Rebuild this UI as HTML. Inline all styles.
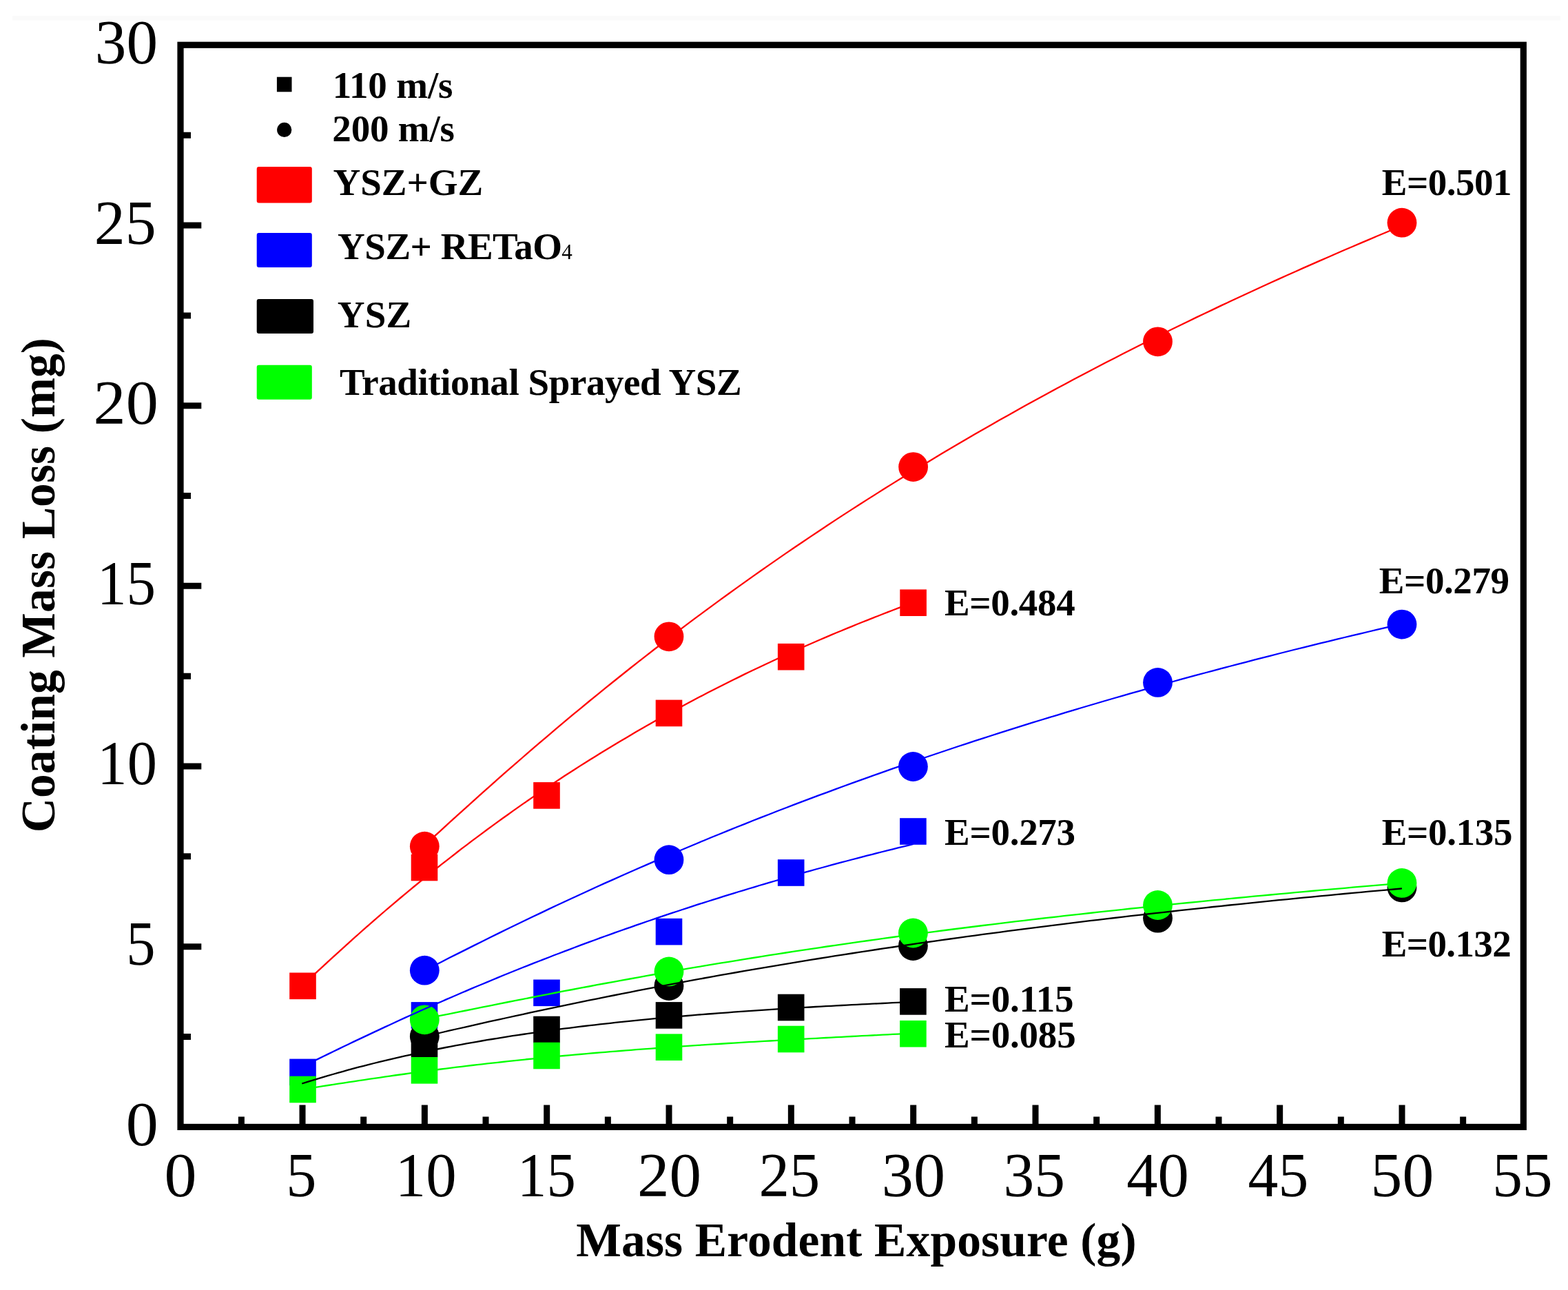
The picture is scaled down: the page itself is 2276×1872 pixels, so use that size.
<!DOCTYPE html><html><head><meta charset="utf-8"><title>Coating Mass Loss vs Mass Erodent Exposure</title><style>html,body{margin:0;padding:0;background:#fff;}svg{display:block;}text{font-family:"Liberation Serif","Times New Roman",serif;fill:#000;}.b{font-weight:bold;}</style></head><body>
<svg width="2276" height="1872" viewBox="0 0 2276 1872">
<rect x="0" y="0" width="2276" height="1872" fill="#fff"/>
<rect x="18" y="23" width="2247" height="6.5" fill="#fafafa"/>
<g id="markers" shape-rendering="geometricPrecision">
<rect x="420.2" y="1411.5" width="38.6" height="38.6" fill="#ff0000"/>
<rect x="596.7" y="1239.7" width="38.6" height="38.6" fill="#ff0000"/>
<rect x="774.2" y="1135.1" width="38.6" height="38.6" fill="#ff0000"/>
<rect x="951.7" y="1015.6" width="38.6" height="38.6" fill="#ff0000"/>
<rect x="1128.9" y="933.9" width="38.6" height="38.6" fill="#ff0000"/>
<rect x="1306.3" y="855.4" width="38.6" height="38.6" fill="#ff0000"/>
<circle cx="616.3" cy="1228.2" r="21.4" fill="#ff0000"/>
<circle cx="971" cy="923.8" r="21.4" fill="#ff0000"/>
<circle cx="1325.6" cy="677.6" r="21.4" fill="#ff0000"/>
<circle cx="1680.5" cy="495.8" r="21.4" fill="#ff0000"/>
<circle cx="2035" cy="323.2" r="21.4" fill="#ff0000"/>
<rect x="420.2" y="1536.6" width="38.6" height="38.6" fill="#0000ff"/>
<rect x="596.7" y="1454.1" width="38.6" height="38.6" fill="#0000ff"/>
<rect x="774.2" y="1421.5" width="38.6" height="38.6" fill="#0000ff"/>
<rect x="951.7" y="1332.8" width="38.6" height="38.6" fill="#0000ff"/>
<rect x="1128.9" y="1247.2" width="38.6" height="38.6" fill="#0000ff"/>
<rect x="1306.1" y="1187.2" width="38.6" height="38.6" fill="#0000ff"/>
<circle cx="616.3" cy="1408.2" r="21.4" fill="#0000ff"/>
<circle cx="971" cy="1247.7" r="21.4" fill="#0000ff"/>
<circle cx="1325.4" cy="1112.5" r="21.4" fill="#0000ff"/>
<circle cx="1680.5" cy="990.4" r="21.4" fill="#0000ff"/>
<circle cx="2035" cy="906.1" r="21.4" fill="#0000ff"/>
<rect x="596.7" y="1495.5" width="38.6" height="38.6" fill="#000000"/>
<rect x="774.2" y="1474.7" width="38.6" height="38.6" fill="#000000"/>
<rect x="951.7" y="1454.1" width="38.6" height="38.6" fill="#000000"/>
<rect x="1128.9" y="1442.7" width="38.6" height="38.6" fill="#000000"/>
<rect x="1306.1" y="1434.1" width="38.6" height="38.6" fill="#000000"/>
<circle cx="616.3" cy="1504" r="21.4" fill="#000000"/>
<circle cx="971" cy="1430.5" r="21.4" fill="#000000"/>
<circle cx="1325.4" cy="1372.5" r="21.4" fill="#000000"/>
<circle cx="1680.5" cy="1332.2" r="21.4" fill="#000000"/>
<circle cx="2035" cy="1287.9" r="21.4" fill="#000000"/>
<rect x="420.2" y="1561.7" width="38.6" height="38.6" fill="#00ff00"/>
<rect x="596.7" y="1534" width="38.6" height="38.6" fill="#00ff00"/>
<rect x="774.2" y="1512.7" width="38.6" height="38.6" fill="#00ff00"/>
<rect x="951.7" y="1500.4" width="38.6" height="38.6" fill="#00ff00"/>
<rect x="1128.9" y="1488.7" width="38.6" height="38.6" fill="#00ff00"/>
<rect x="1306.1" y="1480.9" width="38.6" height="38.6" fill="#00ff00"/>
<circle cx="616.3" cy="1479.8" r="21.4" fill="#00ff00"/>
<circle cx="971" cy="1409.9" r="21.4" fill="#00ff00"/>
<circle cx="1325.4" cy="1354" r="21.4" fill="#00ff00"/>
<circle cx="1680.5" cy="1313.5" r="21.4" fill="#00ff00"/>
<circle cx="2035" cy="1281.4" r="21.4" fill="#00ff00"/>
</g>
<g id="fits" fill="none" stroke-linejoin="round" stroke-linecap="butt">
<path d="M439.0,1430.0 L446.5,1423.0 L453.9,1416.1 L461.4,1409.2 L468.8,1402.3 L476.3,1395.4 L483.7,1388.6 L491.2,1381.8 L498.6,1375.1 L506.1,1368.3 L513.5,1361.7 L521.0,1355.0 L528.4,1348.4 L535.9,1341.9 L543.3,1335.4 L550.8,1328.9 L558.2,1322.5 L565.7,1316.1 L573.1,1309.8 L580.6,1303.5 L588.0,1297.3 L595.5,1291.1 L602.9,1285.0 L610.4,1278.9 L617.9,1272.8 L625.3,1266.8 L632.8,1260.9 L640.2,1254.9 L647.7,1249.1 L655.1,1243.3 L662.6,1237.5 L670.0,1231.7 L677.5,1226.1 L684.9,1220.4 L692.4,1214.8 L699.8,1209.3 L707.3,1203.8 L714.7,1198.3 L722.2,1192.9 L729.6,1187.5 L737.1,1182.2 L744.5,1176.9 L752.0,1171.6 L759.4,1166.4 L766.9,1161.3 L774.3,1156.1 L781.8,1151.1 L789.2,1146.0 L796.7,1141.0 L804.1,1136.1 L811.6,1131.2 L819.0,1126.3 L826.5,1121.5 L833.9,1116.7 L841.4,1111.9 L848.8,1107.2 L856.3,1102.5 L863.7,1097.9 L871.2,1093.3 L878.6,1088.7 L886.1,1084.2 L893.5,1079.7 L901.0,1075.3 L908.4,1070.9 L915.9,1066.5 L923.3,1062.1 L930.8,1057.8 L938.2,1053.6 L945.7,1049.3 L953.1,1045.1 L960.6,1041.0 L968.0,1036.9 L975.5,1032.8 L982.9,1028.7 L990.4,1024.7 L997.8,1020.7 L1005.3,1016.7 L1012.7,1012.8 L1020.2,1008.9 L1027.6,1005.1 L1035.1,1001.2 L1042.5,997.4 L1050.0,993.7 L1057.4,989.9 L1064.9,986.2 L1072.4,982.6 L1079.8,978.9 L1087.3,975.3 L1094.7,971.7 L1102.2,968.2 L1109.6,964.7 L1117.1,961.2 L1124.5,957.7 L1132.0,954.3 L1139.4,950.9 L1146.9,947.5 L1154.3,944.1 L1161.8,940.8 L1169.2,937.5 L1176.7,934.2 L1184.1,931.0 L1191.6,927.8 L1199.0,924.6 L1206.5,921.4 L1213.9,918.3 L1221.4,915.2 L1228.8,912.1 L1236.3,909.1 L1243.7,906.0 L1251.2,903.0 L1258.6,900.1 L1266.1,897.1 L1273.5,894.2 L1281.0,891.3 L1288.4,888.4 L1295.9,885.5 L1303.3,882.7 L1310.8,879.9 L1318.2,877.1 L1325.7,874.3" stroke="#ff0000" stroke-width="2.3"/>
<path d="M616.4,1226.7 L628.3,1215.7 L640.2,1204.8 L652.1,1193.9 L664.0,1183.1 L676.0,1172.3 L687.9,1161.6 L699.8,1150.9 L711.7,1140.3 L723.7,1129.7 L735.6,1119.2 L747.5,1108.8 L759.4,1098.5 L771.3,1088.2 L783.3,1077.9 L795.2,1067.8 L807.1,1057.7 L819.0,1047.7 L830.9,1037.7 L842.9,1027.8 L854.8,1018.0 L866.7,1008.3 L878.6,998.6 L890.6,989.0 L902.5,979.5 L914.4,970.0 L926.3,960.6 L938.2,951.3 L950.2,942.0 L962.1,932.8 L974.0,923.7 L985.9,914.6 L997.8,905.6 L1009.8,896.7 L1021.7,887.9 L1033.6,879.1 L1045.5,870.4 L1057.4,861.7 L1069.4,853.1 L1081.3,844.6 L1093.2,836.1 L1105.1,827.7 L1117.1,819.4 L1129.0,811.1 L1140.9,802.9 L1152.8,794.8 L1164.7,786.7 L1176.7,778.6 L1188.6,770.7 L1200.5,762.8 L1212.4,754.9 L1224.3,747.1 L1236.3,739.4 L1248.2,731.7 L1260.1,724.1 L1272.0,716.6 L1284.0,709.1 L1295.9,701.6 L1307.8,694.2 L1319.7,686.9 L1331.6,679.6 L1343.6,672.4 L1355.5,665.2 L1367.4,658.1 L1379.3,651.0 L1391.2,644.0 L1403.2,637.0 L1415.1,630.1 L1427.0,623.2 L1438.9,616.4 L1450.9,609.6 L1462.8,602.9 L1474.7,596.2 L1486.6,589.6 L1498.5,583.0 L1510.5,576.5 L1522.4,570.0 L1534.3,563.6 L1546.2,557.2 L1558.1,550.8 L1570.1,544.5 L1582.0,538.2 L1593.9,532.0 L1605.8,525.8 L1617.8,519.7 L1629.7,513.6 L1641.6,507.5 L1653.5,501.5 L1665.4,495.5 L1677.4,489.6 L1689.3,483.7 L1701.2,477.8 L1713.1,472.0 L1725.0,466.2 L1737.0,460.4 L1748.9,454.7 L1760.8,449.1 L1772.7,443.4 L1784.7,437.8 L1796.6,432.2 L1808.5,426.7 L1820.4,421.2 L1832.3,415.7 L1844.3,410.3 L1856.2,404.9 L1868.1,399.5 L1880.0,394.2 L1891.9,388.9 L1903.9,383.6 L1915.8,378.4 L1927.7,373.2 L1939.6,368.0 L1951.6,362.8 L1963.5,357.7 L1975.4,352.6 L1987.3,347.6 L1999.2,342.5 L2011.2,337.5 L2023.1,332.5 L2035.0,327.6" stroke="#ff0000" stroke-width="2.3"/>
<path d="M439.0,1547.9 L446.5,1544.2 L453.9,1540.5 L461.4,1536.9 L468.8,1533.2 L476.3,1529.6 L483.7,1526.0 L491.2,1522.4 L498.6,1518.8 L506.1,1515.2 L513.5,1511.6 L521.0,1508.1 L528.4,1504.6 L535.9,1501.1 L543.3,1497.6 L550.8,1494.1 L558.2,1490.6 L565.7,1487.2 L573.1,1483.7 L580.6,1480.3 L588.0,1476.9 L595.5,1473.5 L602.9,1470.2 L610.4,1466.8 L617.9,1463.5 L625.3,1460.2 L632.8,1456.9 L640.2,1453.7 L647.7,1450.4 L655.1,1447.2 L662.6,1444.0 L670.0,1440.8 L677.5,1437.6 L684.9,1434.4 L692.4,1431.3 L699.8,1428.2 L707.3,1425.1 L714.7,1422.0 L722.2,1418.9 L729.6,1415.8 L737.1,1412.8 L744.5,1409.8 L752.0,1406.8 L759.4,1403.8 L766.9,1400.9 L774.3,1397.9 L781.8,1395.0 L789.2,1392.1 L796.7,1389.2 L804.1,1386.3 L811.6,1383.5 L819.0,1380.6 L826.5,1377.8 L833.9,1375.0 L841.4,1372.2 L848.8,1369.4 L856.3,1366.7 L863.7,1364.0 L871.2,1361.2 L878.6,1358.5 L886.1,1355.8 L893.5,1353.2 L901.0,1350.5 L908.4,1347.9 L915.9,1345.3 L923.3,1342.7 L930.8,1340.1 L938.2,1337.5 L945.7,1335.0 L953.1,1332.4 L960.6,1329.9 L968.0,1327.4 L975.5,1324.9 L982.9,1322.5 L990.4,1320.0 L997.8,1317.6 L1005.3,1315.1 L1012.7,1312.7 L1020.2,1310.3 L1027.6,1308.0 L1035.1,1305.6 L1042.5,1303.3 L1050.0,1300.9 L1057.4,1298.6 L1064.9,1296.3 L1072.4,1294.0 L1079.8,1291.8 L1087.3,1289.5 L1094.7,1287.3 L1102.2,1285.0 L1109.6,1282.8 L1117.1,1280.6 L1124.5,1278.5 L1132.0,1276.3 L1139.4,1274.1 L1146.9,1272.0 L1154.3,1269.9 L1161.8,1267.8 L1169.2,1265.7 L1176.7,1263.6 L1184.1,1261.5 L1191.6,1259.5 L1199.0,1257.5 L1206.5,1255.4 L1213.9,1253.4 L1221.4,1251.4 L1228.8,1249.5 L1236.3,1247.5 L1243.7,1245.6 L1251.2,1243.6 L1258.6,1241.7 L1266.1,1239.8 L1273.5,1237.9 L1281.0,1236.0 L1288.4,1234.1 L1295.9,1232.3 L1303.3,1230.4 L1310.8,1228.6 L1318.2,1226.8 L1325.7,1225.0" stroke="#0000ff" stroke-width="2.3"/>
<path d="M616.4,1408.5 L628.3,1402.3 L640.2,1396.2 L652.1,1390.1 L664.0,1384.1 L676.0,1378.1 L687.9,1372.1 L699.8,1366.2 L711.7,1360.3 L723.7,1354.4 L735.6,1348.5 L747.5,1342.8 L759.4,1337.0 L771.3,1331.3 L783.3,1325.6 L795.2,1319.9 L807.1,1314.3 L819.0,1308.7 L830.9,1303.2 L842.9,1297.7 L854.8,1292.2 L866.7,1286.8 L878.6,1281.4 L890.6,1276.1 L902.5,1270.8 L914.4,1265.5 L926.3,1260.3 L938.2,1255.1 L950.2,1249.9 L962.1,1244.8 L974.0,1239.7 L985.9,1234.7 L997.8,1229.7 L1009.8,1224.7 L1021.7,1219.7 L1033.6,1214.8 L1045.5,1210.0 L1057.4,1205.1 L1069.4,1200.3 L1081.3,1195.6 L1093.2,1190.8 L1105.1,1186.1 L1117.1,1181.5 L1129.0,1176.8 L1140.9,1172.2 L1152.8,1167.7 L1164.7,1163.2 L1176.7,1158.7 L1188.6,1154.2 L1200.5,1149.8 L1212.4,1145.4 L1224.3,1141.0 L1236.3,1136.7 L1248.2,1132.4 L1260.1,1128.1 L1272.0,1123.8 L1284.0,1119.6 L1295.9,1115.4 L1307.8,1111.3 L1319.7,1107.2 L1331.6,1103.1 L1343.6,1099.0 L1355.5,1095.0 L1367.4,1091.0 L1379.3,1087.0 L1391.2,1083.0 L1403.2,1079.1 L1415.1,1075.2 L1427.0,1071.4 L1438.9,1067.5 L1450.9,1063.7 L1462.8,1059.9 L1474.7,1056.2 L1486.6,1052.4 L1498.5,1048.7 L1510.5,1045.0 L1522.4,1041.4 L1534.3,1037.8 L1546.2,1034.2 L1558.1,1030.6 L1570.1,1027.0 L1582.0,1023.5 L1593.9,1020.0 L1605.8,1016.5 L1617.8,1013.0 L1629.7,1009.6 L1641.6,1006.2 L1653.5,1002.8 L1665.4,999.4 L1677.4,996.1 L1689.3,992.8 L1701.2,989.5 L1713.1,986.2 L1725.0,982.9 L1737.0,979.7 L1748.9,976.5 L1760.8,973.3 L1772.7,970.1 L1784.7,967.0 L1796.6,963.9 L1808.5,960.8 L1820.4,957.7 L1832.3,954.6 L1844.3,951.6 L1856.2,948.5 L1868.1,945.5 L1880.0,942.5 L1891.9,939.6 L1903.9,936.6 L1915.8,933.7 L1927.7,930.8 L1939.6,927.9 L1951.6,925.0 L1963.5,922.1 L1975.4,919.3 L1987.3,916.5 L1999.2,913.7 L2011.2,910.9 L2023.1,908.1 L2035.0,905.4" stroke="#0000ff" stroke-width="2.3"/>
<path d="M438.3,1572.5 L445.8,1570.1 L453.2,1567.8 L460.7,1565.6 L468.1,1563.3 L475.6,1561.1 L483.1,1559.0 L490.5,1556.8 L498.0,1554.8 L505.4,1552.7 L512.9,1550.7 L520.3,1548.7 L527.8,1546.8 L535.3,1544.9 L542.7,1543.0 L550.2,1541.2 L557.6,1539.4 L565.1,1537.6 L572.5,1535.8 L580.0,1534.1 L587.5,1532.4 L594.9,1530.8 L602.4,1529.2 L609.8,1527.6 L617.3,1526.0 L624.7,1524.5 L632.2,1523.0 L639.7,1521.5 L647.1,1520.0 L654.6,1518.6 L662.0,1517.2 L669.5,1515.8 L676.9,1514.4 L684.4,1513.1 L691.9,1511.8 L699.3,1510.5 L706.8,1509.2 L714.2,1508.0 L721.7,1506.8 L729.1,1505.6 L736.6,1504.4 L744.0,1503.2 L751.5,1502.1 L759.0,1501.0 L766.4,1499.9 L773.9,1498.8 L781.3,1497.7 L788.8,1496.7 L796.2,1495.7 L803.7,1494.7 L811.2,1493.7 L818.6,1492.7 L826.1,1491.8 L833.5,1490.8 L841.0,1489.9 L848.4,1489.0 L855.9,1488.1 L863.4,1487.3 L870.8,1486.4 L878.3,1485.6 L885.7,1484.8 L893.2,1483.9 L900.6,1483.1 L908.1,1482.4 L915.6,1481.6 L923.0,1480.8 L930.5,1480.1 L937.9,1479.4 L945.4,1478.7 L952.8,1477.9 L960.3,1477.3 L967.8,1476.6 L975.2,1475.9 L982.7,1475.2 L990.1,1474.6 L997.6,1474.0 L1005.0,1473.3 L1012.5,1472.7 L1020.0,1472.1 L1027.4,1471.5 L1034.9,1471.0 L1042.3,1470.4 L1049.8,1469.8 L1057.2,1469.3 L1064.7,1468.7 L1072.1,1468.2 L1079.6,1467.6 L1087.1,1467.1 L1094.5,1466.6 L1102.0,1466.1 L1109.4,1465.6 L1116.9,1465.1 L1124.3,1464.6 L1131.8,1464.2 L1139.3,1463.7 L1146.7,1463.2 L1154.2,1462.8 L1161.6,1462.3 L1169.1,1461.9 L1176.5,1461.5 L1184.0,1461.0 L1191.5,1460.6 L1198.9,1460.2 L1206.4,1459.8 L1213.8,1459.4 L1221.3,1459.0 L1228.7,1458.6 L1236.2,1458.2 L1243.7,1457.8 L1251.1,1457.4 L1258.6,1457.1 L1266.0,1456.7 L1273.5,1456.3 L1280.9,1456.0 L1288.4,1455.6 L1295.9,1455.2 L1303.3,1454.9 L1310.8,1454.5 L1318.2,1454.2 L1325.7,1453.8" stroke="#000000" stroke-width="2.3"/>
<path d="M616.4,1504.0 L628.3,1501.2 L640.2,1498.5 L652.1,1495.7 L664.0,1493.0 L676.0,1490.3 L687.9,1487.6 L699.8,1484.9 L711.7,1482.2 L723.7,1479.6 L735.6,1477.0 L747.5,1474.4 L759.4,1471.8 L771.3,1469.2 L783.3,1466.6 L795.2,1464.1 L807.1,1461.6 L819.0,1459.1 L830.9,1456.6 L842.9,1454.1 L854.8,1451.7 L866.7,1449.3 L878.6,1446.9 L890.6,1444.5 L902.5,1442.1 L914.4,1439.8 L926.3,1437.4 L938.2,1435.1 L950.2,1432.8 L962.1,1430.6 L974.0,1428.3 L985.9,1426.1 L997.8,1423.9 L1009.8,1421.7 L1021.7,1419.5 L1033.6,1417.4 L1045.5,1415.2 L1057.4,1413.1 L1069.4,1411.0 L1081.3,1408.9 L1093.2,1406.9 L1105.1,1404.8 L1117.1,1402.8 L1129.0,1400.8 L1140.9,1398.8 L1152.8,1396.8 L1164.7,1394.9 L1176.7,1392.9 L1188.6,1391.0 L1200.5,1389.1 L1212.4,1387.2 L1224.3,1385.3 L1236.3,1383.5 L1248.2,1381.6 L1260.1,1379.8 L1272.0,1378.0 L1284.0,1376.2 L1295.9,1374.5 L1307.8,1372.7 L1319.7,1371.0 L1331.6,1369.2 L1343.6,1367.5 L1355.5,1365.8 L1367.4,1364.1 L1379.3,1362.5 L1391.2,1360.8 L1403.2,1359.2 L1415.1,1357.6 L1427.0,1355.9 L1438.9,1354.3 L1450.9,1352.8 L1462.8,1351.2 L1474.7,1349.6 L1486.6,1348.1 L1498.5,1346.6 L1510.5,1345.1 L1522.4,1343.6 L1534.3,1342.1 L1546.2,1340.6 L1558.1,1339.1 L1570.1,1337.7 L1582.0,1336.2 L1593.9,1334.8 L1605.8,1333.4 L1617.8,1332.0 L1629.7,1330.6 L1641.6,1329.2 L1653.5,1327.9 L1665.4,1326.5 L1677.4,1325.2 L1689.3,1323.8 L1701.2,1322.5 L1713.1,1321.2 L1725.0,1319.9 L1737.0,1318.6 L1748.9,1317.3 L1760.8,1316.0 L1772.7,1314.8 L1784.7,1313.5 L1796.6,1312.3 L1808.5,1311.1 L1820.4,1309.9 L1832.3,1308.6 L1844.3,1307.4 L1856.2,1306.2 L1868.1,1305.1 L1880.0,1303.9 L1891.9,1302.7 L1903.9,1301.6 L1915.8,1300.4 L1927.7,1299.3 L1939.6,1298.2 L1951.6,1297.0 L1963.5,1295.9 L1975.4,1294.8 L1987.3,1293.7 L1999.2,1292.6 L2011.2,1291.6 L2023.1,1290.5 L2035.0,1289.4" stroke="#000000" stroke-width="2.3"/>
<path d="M439.0,1580.7 L446.5,1579.6 L453.9,1578.4 L461.4,1577.3 L468.8,1576.1 L476.3,1575.0 L483.7,1573.8 L491.2,1572.7 L498.6,1571.6 L506.1,1570.4 L513.5,1569.3 L521.0,1568.2 L528.4,1567.1 L535.9,1565.9 L543.3,1564.8 L550.8,1563.8 L558.2,1562.7 L565.7,1561.6 L573.1,1560.5 L580.6,1559.5 L588.0,1558.5 L595.5,1557.4 L602.9,1556.4 L610.4,1555.4 L617.9,1554.4 L625.3,1553.4 L632.8,1552.5 L640.2,1551.5 L647.7,1550.6 L655.1,1549.6 L662.6,1548.7 L670.0,1547.8 L677.5,1546.9 L684.9,1546.0 L692.4,1545.2 L699.8,1544.3 L707.3,1543.4 L714.7,1542.6 L722.2,1541.8 L729.6,1541.0 L737.1,1540.1 L744.5,1539.4 L752.0,1538.6 L759.4,1537.8 L766.9,1537.0 L774.3,1536.3 L781.8,1535.5 L789.2,1534.8 L796.7,1534.1 L804.1,1533.4 L811.6,1532.7 L819.0,1532.0 L826.5,1531.3 L833.9,1530.6 L841.4,1530.0 L848.8,1529.3 L856.3,1528.7 L863.7,1528.0 L871.2,1527.4 L878.6,1526.8 L886.1,1526.2 L893.5,1525.6 L901.0,1525.0 L908.4,1524.4 L915.9,1523.8 L923.3,1523.2 L930.8,1522.7 L938.2,1522.1 L945.7,1521.6 L953.1,1521.0 L960.6,1520.5 L968.0,1519.9 L975.5,1519.4 L982.9,1518.9 L990.4,1518.4 L997.8,1517.9 L1005.3,1517.4 L1012.7,1516.9 L1020.2,1516.4 L1027.6,1515.9 L1035.1,1515.4 L1042.5,1515.0 L1050.0,1514.5 L1057.4,1514.0 L1064.9,1513.6 L1072.4,1513.1 L1079.8,1512.7 L1087.3,1512.2 L1094.7,1511.8 L1102.2,1511.4 L1109.6,1510.9 L1117.1,1510.5 L1124.5,1510.1 L1132.0,1509.6 L1139.4,1509.2 L1146.9,1508.8 L1154.3,1508.4 L1161.8,1508.0 L1169.2,1507.6 L1176.7,1507.2 L1184.1,1506.8 L1191.6,1506.4 L1199.0,1506.0 L1206.5,1505.6 L1213.9,1505.2 L1221.4,1504.8 L1228.8,1504.4 L1236.3,1504.0 L1243.7,1503.6 L1251.2,1503.2 L1258.6,1502.9 L1266.1,1502.5 L1273.5,1502.1 L1281.0,1501.7 L1288.4,1501.3 L1295.9,1500.9 L1303.3,1500.6 L1310.8,1500.2 L1318.2,1499.8 L1325.7,1499.4" stroke="#00ff00" stroke-width="2.3"/>
<path d="M616.4,1478.4 L628.3,1476.0 L640.2,1473.6 L652.1,1471.3 L664.0,1468.9 L676.0,1466.5 L687.9,1464.1 L699.8,1461.7 L711.7,1459.3 L723.7,1456.9 L735.6,1454.5 L747.5,1452.2 L759.4,1449.8 L771.3,1447.5 L783.3,1445.2 L795.2,1442.8 L807.1,1440.5 L819.0,1438.2 L830.9,1436.0 L842.9,1433.7 L854.8,1431.5 L866.7,1429.2 L878.6,1427.0 L890.6,1424.8 L902.5,1422.6 L914.4,1420.5 L926.3,1418.3 L938.2,1416.2 L950.2,1414.0 L962.1,1411.9 L974.0,1409.9 L985.9,1407.8 L997.8,1405.7 L1009.8,1403.7 L1021.7,1401.7 L1033.6,1399.7 L1045.5,1397.7 L1057.4,1395.8 L1069.4,1393.8 L1081.3,1391.9 L1093.2,1390.0 L1105.1,1388.1 L1117.1,1386.2 L1129.0,1384.3 L1140.9,1382.5 L1152.8,1380.7 L1164.7,1378.9 L1176.7,1377.1 L1188.6,1375.3 L1200.5,1373.5 L1212.4,1371.8 L1224.3,1370.1 L1236.3,1368.4 L1248.2,1366.7 L1260.1,1365.0 L1272.0,1363.3 L1284.0,1361.7 L1295.9,1360.0 L1307.8,1358.4 L1319.7,1356.8 L1331.6,1355.2 L1343.6,1353.6 L1355.5,1352.1 L1367.4,1350.5 L1379.3,1349.0 L1391.2,1347.5 L1403.2,1346.0 L1415.1,1344.5 L1427.0,1343.0 L1438.9,1341.6 L1450.9,1340.1 L1462.8,1338.7 L1474.7,1337.2 L1486.6,1335.8 L1498.5,1334.4 L1510.5,1333.0 L1522.4,1331.7 L1534.3,1330.3 L1546.2,1328.9 L1558.1,1327.6 L1570.1,1326.3 L1582.0,1325.0 L1593.9,1323.6 L1605.8,1322.4 L1617.8,1321.1 L1629.7,1319.8 L1641.6,1318.5 L1653.5,1317.3 L1665.4,1316.0 L1677.4,1314.8 L1689.3,1313.6 L1701.2,1312.4 L1713.1,1311.2 L1725.0,1310.0 L1737.0,1308.8 L1748.9,1307.6 L1760.8,1306.4 L1772.7,1305.3 L1784.7,1304.1 L1796.6,1303.0 L1808.5,1301.8 L1820.4,1300.7 L1832.3,1299.6 L1844.3,1298.5 L1856.2,1297.4 L1868.1,1296.3 L1880.0,1295.2 L1891.9,1294.1 L1903.9,1293.0 L1915.8,1291.9 L1927.7,1290.9 L1939.6,1289.8 L1951.6,1288.8 L1963.5,1287.7 L1975.4,1286.7 L1987.3,1285.6 L1999.2,1284.6 L2011.2,1283.6 L2023.1,1282.6 L2035.0,1281.6" stroke="#00ff00" stroke-width="2.3"/>
</g>
<rect x="262.0" y="65.25" width="1949.3" height="1570.2" fill="none" stroke="#000" stroke-width="9.2"/>
<path d="M350.37,1635.45 V1620.4 M439.03,1635.45 V1603.6 M527.69,1635.45 V1620.4 M616.36,1635.45 V1603.6 M705.02,1635.45 V1620.4 M793.69,1635.45 V1603.6 M882.36,1635.45 V1620.4 M971.02,1635.45 V1603.6 M1059.68,1635.45 V1620.4 M1148.35,1635.45 V1603.6 M1237.02,1635.45 V1620.4 M1325.68,1635.45 V1603.6 M1414.35,1635.45 V1620.4 M1503.01,1635.45 V1603.6 M1591.68,1635.45 V1620.4 M1680.34,1635.45 V1603.6 M1769.01,1635.45 V1620.4 M1857.67,1635.45 V1603.6 M1946.34,1635.45 V1620.4 M2035,1635.45 V1603.6 M2123.66,1635.45 V1620.4 M262.0,1504.47 H277.0 M262.0,1373.65 H292.3 M262.0,1242.83 H277.0 M262.0,1112 H292.3 M262.0,981.17 H277.0 M262.0,850.35 H292.3 M262.0,719.52 H277.0 M262.0,588.7 H292.3 M262.0,457.88 H277.0 M262.0,327.05 H292.3 M262.0,196.22 H277.0" stroke="#000" stroke-width="9" fill="none"/>
<text x="0" y="1736.5" font-size="92" text-anchor="middle" transform="matrix(1.022 0 0 1 262.1 0)">0</text>
<text x="0" y="1736.5" font-size="92" text-anchor="middle" transform="matrix(0.961 0 0 1 437.3 0)">5</text>
<text x="0" y="1736.5" font-size="92" text-anchor="middle" transform="matrix(0.966 0 0 1 618.19 0)">10</text>
<text x="0" y="1736.5" font-size="92" text-anchor="middle" transform="matrix(0.921 0 0 1 793.39 0)">15</text>
<text x="0" y="1736.5" font-size="92" text-anchor="middle" transform="matrix(1.011 0 0 1 971.38 0)">20</text>
<text x="0" y="1736.5" font-size="92" text-anchor="middle" transform="matrix(0.967 0 0 1 1145.85 0)">25</text>
<text x="0" y="1736.5" font-size="92" text-anchor="middle" transform="matrix(1.001 0 0 1 1325.88 0)">30</text>
<text x="0" y="1736.5" font-size="92" text-anchor="middle" transform="matrix(0.973 0 0 1 1501.2 0)">35</text>
<text x="0" y="1736.5" font-size="92" text-anchor="middle" transform="matrix(0.984 0 0 1 1680.5 0)">40</text>
<text x="0" y="1736.5" font-size="92" text-anchor="middle" transform="matrix(0.952 0 0 1 1855.38 0)">45</text>
<text x="0" y="1736.5" font-size="92" text-anchor="middle" transform="matrix(0.996 0 0 1 2035.41 0)">50</text>
<text x="0" y="1736.5" font-size="92" text-anchor="middle" transform="matrix(0.95 0 0 1 2209.86 0)">55</text>
<text x="0" y="1661.8" font-size="92" text-anchor="middle" transform="matrix(1.022 0 0 1 206.2 0)">0</text>
<text x="0" y="1400.15" font-size="92" text-anchor="middle" transform="matrix(0.92 0 0 1 204.39 0)">5</text>
<text x="0" y="1138.5" font-size="92" text-anchor="middle" transform="matrix(0.941 0 0 1 184.65 0)">10</text>
<text x="0" y="876.85" font-size="92" text-anchor="middle" transform="matrix(0.925 0 0 1 183.43 0)">15</text>
<text x="0" y="615.2" font-size="92" text-anchor="middle" transform="matrix(1.024 0 0 1 182.63 0)">20</text>
<text x="0" y="353.55" font-size="92" text-anchor="middle" transform="matrix(0.977 0 0 1 181.7 0)">25</text>
<text x="0" y="91.9" font-size="92" text-anchor="middle" transform="matrix(0.992 0 0 1 183.39 0)">30</text>
<text class="b" x="482.63" y="141.6" font-size="55" textLength="174.79" lengthAdjust="spacing">110 m/s</text>
<text class="b" x="482.37" y="205.4" font-size="55" textLength="177.48" lengthAdjust="spacing">200 m/s</text>
<text class="b" x="483.6" y="283" font-size="55" textLength="217.61" lengthAdjust="spacing">YSZ+GZ</text>
<text class="b" x="490.1" y="376.2" font-size="55" textLength="325.85" lengthAdjust="spacing">YSZ+ RETaO</text>
<text x="815.18" y="376.4" font-size="31" textLength="14.22" lengthAdjust="spacing">4</text>
<text class="b" x="489.8" y="474.7" font-size="55" textLength="107.4" lengthAdjust="spacing">YSZ</text>
<text class="b" x="493.04" y="572.8" font-size="55" textLength="583.65" lengthAdjust="spacing">Traditional Sprayed YSZ</text>
<text class="b" x="2005.7" y="283.2" font-size="55" textLength="188.89" lengthAdjust="spacing">E=0.501</text>
<text class="b" x="1371" y="892.6" font-size="55" textLength="189.66" lengthAdjust="spacing">E=0.484</text>
<text class="b" x="2001.7" y="860.8" font-size="55" textLength="189.36" lengthAdjust="spacing">E=0.279</text>
<text class="b" x="1371" y="1225.8" font-size="55" textLength="190.07" lengthAdjust="spacing">E=0.273</text>
<text class="b" x="2005.7" y="1225.5" font-size="55" textLength="189.69" lengthAdjust="spacing">E=0.135</text>
<text class="b" x="2005.7" y="1388.4" font-size="55" textLength="188" lengthAdjust="spacing">E=0.132</text>
<text class="b" x="1371" y="1467.5" font-size="55" textLength="187.56" lengthAdjust="spacing">E=0.115</text>
<text class="b" x="1371" y="1519.6" font-size="55" textLength="190.69" lengthAdjust="spacing">E=0.085</text>
<text class="b" x="836.29" y="1823.1" font-size="69.5" textLength="813.26" lengthAdjust="spacing">Mass Erodent Exposure (g)</text>
<text class="b" x="78.6" y="1208.33" font-size="69.5" textLength="718.28" lengthAdjust="spacing" transform="rotate(-90 78.6 1208.33)">Coating Mass Loss (mg)</text>
<rect x="401.9" y="111.7" width="21.6" height="21.6" fill="#000"/>
<circle cx="412.7" cy="188.4" r="10.6" fill="#000"/>
<rect x="372.7" y="241.9" width="80.1" height="52.7" rx="3" fill="#ff0000"/>
<rect x="372.7" y="338" width="80.1" height="49.9" rx="3" fill="#0000ff"/>
<rect x="372.7" y="433.9" width="82.3" height="50" rx="3" fill="#000"/>
<rect x="372.7" y="529.7" width="80.1" height="50.1" rx="3" fill="#00ff00"/>
</svg></body></html>
